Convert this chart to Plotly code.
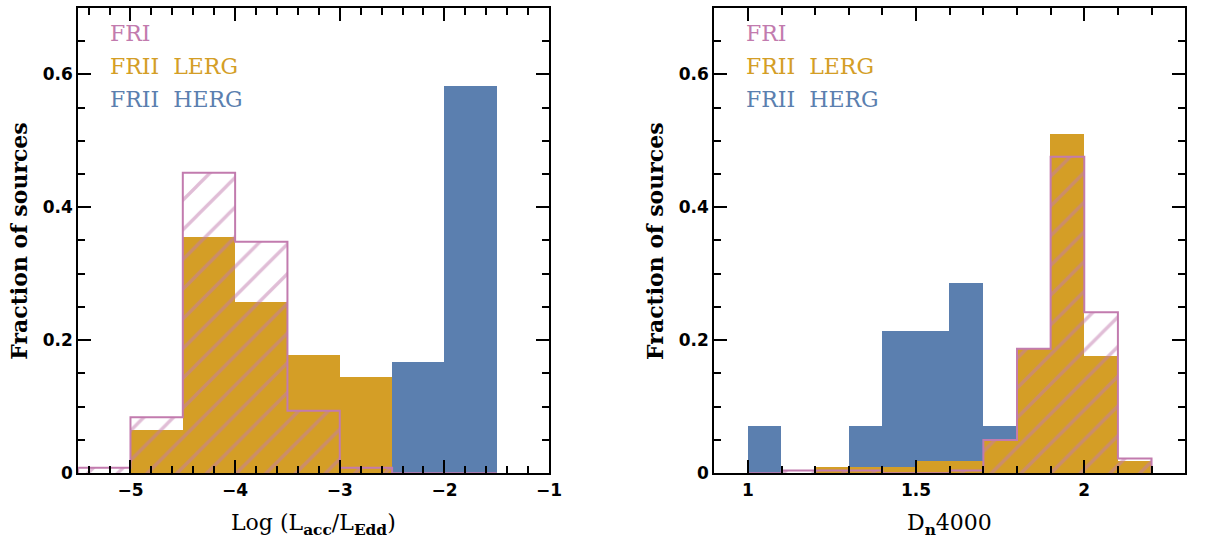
import plotly.graph_objects as go

# ---------------- data ----------------
# Left panel: Log(Lacc/LEdd), bins of width 0.5
left_edges = [-5.5, -5.0, -4.5, -4.0, -3.5, -3.0, -2.5, -2.0, -1.5]
left_fri = [0.008, 0.084, 0.452, 0.348, 0.094, 0.008, 0.0, 0.0]
left_lerg = [0.0, 0.065, 0.355, 0.258, 0.178, 0.145, 0.0, 0.0]
left_herg = [0.0, 0.0, 0.0, 0.0, 0.0, 0.0, 0.167, 0.583]

# Right panel: Dn4000, bins of width 0.1
right_edges = [1.0, 1.1, 1.2, 1.3, 1.4, 1.5, 1.6, 1.7, 1.8, 1.9, 2.0, 2.1, 2.2]
right_fri = [0.0, 0.004, 0.004, 0.004, 0.0, 0.0, 0.004, 0.05, 0.187, 0.476, 0.242, 0.022]
right_lerg = [0.0, 0.0, 0.009, 0.009, 0.009, 0.018, 0.018, 0.05, 0.187, 0.51, 0.176, 0.018]
right_herg = [0.071, 0.0, 0.0, 0.071, 0.214, 0.214, 0.286, 0.071, 0.0, 0.0, 0.0, 0.0]

left_xticks = [-5, -4, -3, -2, -1]
left_xticklabels = ["\u22125", "\u22124", "\u22123", "\u22122", "\u22121"]
right_xticks = [1, 1.5, 2]
right_xticklabels = ["1", "1.5", "2"]
yticks = [0, 0.2, 0.4, 0.6]
yticklabels = ["0", "0.2", "0.4", "0.6"]

legend_names = ["FRI", "FRII  LERG", "FRII  HERG"]

# ---------------- style ----------------
PINK = "#C27BAE"
GOLD = "#D49E26"
BLUE = "#5B7FAF"
SERIF = "DejaVu Serif"
SANS = "DejaVu Sans"

fig = go.Figure()


def centers(edges):
    return [(a + b) / 2 for a, b in zip(edges[:-1], edges[1:])]


def widths(edges):
    return [b - a for a, b in zip(edges[:-1], edges[1:])]


def step_outline(edges, vals):
    xs, ys = [edges[0]], [0]
    for i, v in enumerate(vals):
        xs += [edges[i], edges[i + 1]]
        ys += [v, v]
    xs.append(edges[-1])
    ys.append(0)
    return xs, ys


def add_panel(edges, fri, lerg, herg, xa, ya):
    c, w = centers(edges), widths(edges)
    fig.add_trace(go.Bar(x=c, y=herg, width=w, marker=dict(color=BLUE, line=dict(width=0)),
                         xaxis=xa, yaxis=ya, showlegend=False))
    fig.add_trace(go.Bar(x=c, y=lerg, width=w, marker=dict(color=GOLD, line=dict(width=0)),
                         xaxis=xa, yaxis=ya, showlegend=False))
    fig.add_trace(go.Bar(x=c, y=fri, width=w,
                         marker=dict(color="rgba(0,0,0,0)", line=dict(width=0),
                                     pattern=dict(shape="/", fgcolor=PINK, bgcolor="rgba(0,0,0,0)",
                                                  fillmode="overlay", size=21, solidity=0.16)),
                         xaxis=xa, yaxis=ya, showlegend=False))
    sx, sy = step_outline(edges, fri)
    fig.add_trace(go.Scatter(x=sx, y=sy, mode="lines", line=dict(color=PINK, width=2),
                             xaxis=xa, yaxis=ya, showlegend=False, hoverinfo="skip"))


add_panel(left_edges, left_fri, left_lerg, left_herg, "x", "y")
add_panel(right_edges, right_fri, right_lerg, right_herg, "x2", "y2")

ydom = [1 - 482 / 544, 1 - 8 / 544]
common_axis = dict(showline=True, linecolor="black", linewidth=2, mirror="allticks",
                   ticks="inside", tickcolor="black", tickwidth=2, showgrid=False,
                   zeroline=False,
                   tickfont=dict(family=SANS, size=17, color="black", weight="bold"))

fig.update_layout(
    width=1215, height=544,
    margin=dict(l=0, r=0, t=0, b=0),
    paper_bgcolor="white", plot_bgcolor="white",
    barmode="overlay", bargap=0,
    xaxis=dict(domain=[79 / 1215, 555 / 1215], range=[-5.5, -1], tickmode="array",
               tickvals=left_xticks, ticktext=left_xticklabels, ticklen=13,
               minor=dict(dtick=0.2, tick0=-5, ticks="inside", ticklen=7, tickwidth=2, tickcolor="black"),
               anchor="y", **common_axis),
    yaxis=dict(domain=ydom, range=[0, 0.7], tickmode="array", tickvals=yticks,
               ticktext=yticklabels, ticklen=13,
               minor=dict(dtick=0.05, tick0=0, ticks="inside", ticklen=7, tickwidth=2, tickcolor="black"),
               anchor="x", **common_axis),
    xaxis2=dict(domain=[722 / 1215, 1198 / 1215], range=[0.9, 2.3], tickmode="array",
                tickvals=right_xticks, ticktext=right_xticklabels, ticklen=13,
                minor=dict(dtick=0.1, tick0=1, ticks="inside", ticklen=7, tickwidth=2, tickcolor="black"),
                anchor="y2", **common_axis),
    yaxis2=dict(domain=ydom, range=[0, 0.7], tickmode="array", tickvals=yticks,
                ticktext=yticklabels, ticklen=13,
                minor=dict(dtick=0.05, tick0=0, ticks="inside", ticklen=7, tickwidth=2, tickcolor="black"),
                anchor="x2", **common_axis),
)

annotations = []
legend_colors = [PINK, GOLD, BLUE]
legend_y = [0.945, 0.8745, 0.804]
for xr, yr, x0 in [("x domain", "y domain", 0.063), ("x2 domain", "y2 domain", 0.063)]:
    for name, col, yy in zip(legend_names, legend_colors, legend_y):
        annotations.append(dict(text=name, x=x0, y=yy, xref=xr, yref=yr, xanchor="left",
                                yanchor="middle", showarrow=False,
                                font=dict(family=SERIF, size=22, color=col)))

# axis titles
for xr, yr in [("x domain", "y domain"), ("x2 domain", "y2 domain")]:
    annotations.append(dict(text="Fraction of sources", x=-0.125, y=0.5, xref=xr, yref=yr,
                            xanchor="center", yanchor="middle", textangle=-90, showarrow=False,
                            font=dict(family=SERIF, size=22, color="black", weight="bold")))
annotations.append(dict(text="Log (L<sub><b>acc</b></sub>/L<sub><b>Edd</b></sub>)", x=0.5, y=-0.075,
                        xref="x domain", yref="y domain", xanchor="center", yanchor="top",
                        showarrow=False, font=dict(family=SERIF, size=22, color="black")))
annotations.append(dict(text="D<sub><b>n</b></sub>4000", x=0.5, y=-0.075,
                        xref="x2 domain", yref="y2 domain", xanchor="center", yanchor="top",
                        showarrow=False, font=dict(family=SERIF, size=22, color="black")))
fig.update_layout(annotations=annotations)

fig.write_html("out.html")
